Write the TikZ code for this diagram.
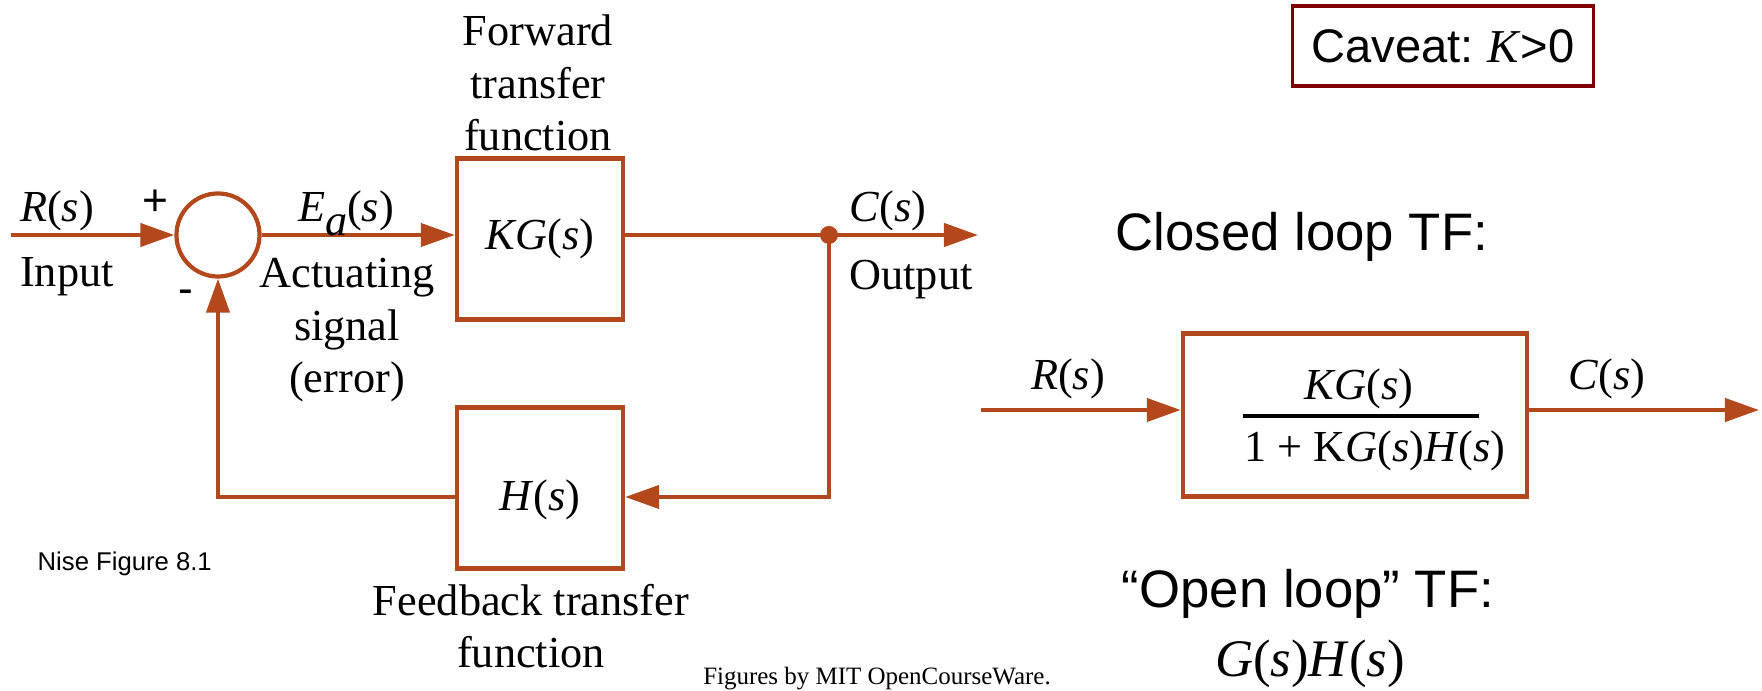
\documentclass[tikz,border=0pt]{standalone}
\usepackage{fontspec}
\setmainfont{Liberation Serif}
\setsansfont{Liberation Sans}
\usetikzlibrary{arrows.meta}
\definecolor{rust}{RGB}{178,72,28}
\definecolor{caveatred}{RGB}{128,0,0}
\newcommand{\mi}[1]{\textit{#1}}
\tikzset{
    blk/.style={draw=rust, line width=1.2pt, inner sep=0pt, minimum width=1.66cm, minimum height=1.61cm, font=\fontsize{12.6}{15}\selectfont},
    wire/.style={draw=rust, line width=1.2pt},
    sig/.style={wire, -{Triangle[length=0.34cm, width=0.23cm]}},
    lbl/.style={inner sep=0pt, anchor=base, align=center, font=\fontsize{12.6}{15}\selectfont},
    big/.style={inner sep=0pt, anchor=base, align=center, font=\sffamily\fontsize{15}{18}\selectfont},
}
\begin{document}
\begin{tikzpicture}[x=0.01cm, y=-0.01cm]
\useasboundingbox (0,0) rectangle (1762,691);
% feedback loop
\node[circle, draw=rust, line width=1.2pt, minimum size=0.83cm, inner sep=0pt] (sum) at (218,235) {};
\node[blk] (fwd) at (540,239) {\mi{KG}(\mi{s})};
\node[blk] (fb) at (540,488) {};
\coordinate (in) at (11,235);
\coordinate (tap) at (829,235);
\coordinate (out) at (978,235);
\coordinate (fbr) at (829,497);
\coordinate (fbl) at (218,497);
\draw[sig] (in) -- (sum.west);
\draw[sig] (sum.east) -- (sum.east -| fwd.west);
\draw[wire] (tap -| fwd.east) -- (tap);
\draw[sig] (tap) -- (out);
\draw[sig] (tap) -- (fbr) -- (fbr -| fb.east);
\draw[sig] (fbr -| fb.west) -- (fbl) -- (sum.south);
\fill[rust] (tap) circle[radius=0.09cm];
\node[lbl, anchor=center] (hlbl) at (540,500) {\mi{H}(\mi{s})};
\node[lbl] (rlbl) at (57,222) {\mi{R}(\mi{s})};
\node[lbl] (inlbl) at (67,287) {Input};
\node[lbl, anchor=center, font=\sffamily\fontsize{12.6}{15}\selectfont] (plus) at (155,203) {+};
\node[lbl, anchor=center, font=\sffamily\fontsize{12.6}{15}\selectfont] (minus) at (186,297) {-};
\node[lbl] (elbl) at (346,222) {\mi{E}\raisebox{-0.3em}{\mi{a}}(\mi{s})};
\node[lbl] (act) at (347,393) {Actuating\\signal\\(error)};
\node[lbl] (fwdlbl) at (538,151) {Forward\\transfer\\function};
\node[lbl] (clbl) at (888,222) {\mi{C}(\mi{s})};
\node[lbl] (outlbl) at (911,290) {Output};
\node[lbl] (fblbl) at (531,668) {Feedback transfer\\function};
\node[inner sep=0pt, anchor=base west, font=\sffamily\fontsize{7.3}{9}\selectfont] (nise) at (37,571) {Nise Figure 8.1};
\node[inner sep=0pt, anchor=base, font=\fontsize{7.1}{9}\selectfont] (mit) at (877,685) {Figures by MIT OpenCourseWare.};
% closed loop
\node[draw=caveatred, line width=0.9pt, minimum width=3.01cm, minimum height=0.8cm, font=\sffamily\fontsize{13.4}{16}\selectfont] (caveat) at (1443,46) {Caveat:\ {\rmfamily\mi{K}}>0};
\node[big, anchor=center] (cltf) at (1302,237) {Closed loop TF:};
\node[blk, minimum width=3.44cm, minimum height=1.63cm] (cl) at (1355,415) {};
\coordinate (clin) at (981,410);
\coordinate (clout) at (1759,410);
\draw[sig] (clin) -- (clin -| cl.west);
\draw[sig] (clin -| cl.east) -- (clout);
\node[lbl] (num) at (1359,400) {\mi{KG}(\mi{s})};
\node[lbl] (den) at (1375,462) {1 + K\mi{G}(\mi{s})\mi{H}(\mi{s})};
\draw[line width=1.4pt] (1243,416) -- (1479,416);
\node[lbl] (r2lbl) at (1068,390) {\mi{R}(\mi{s})};
\node[lbl] (c2lbl) at (1607,390) {\mi{C}(\mi{s})};
\node[big] (oltf) at (1308,607) {“Open loop” TF:};
\node[lbl, font=\fontsize{15}{18}\selectfont] (ol) at (1310,676) {\mi{G}(\mi{s})\mi{H}(\mi{s})};
\end{tikzpicture}
\end{document}
